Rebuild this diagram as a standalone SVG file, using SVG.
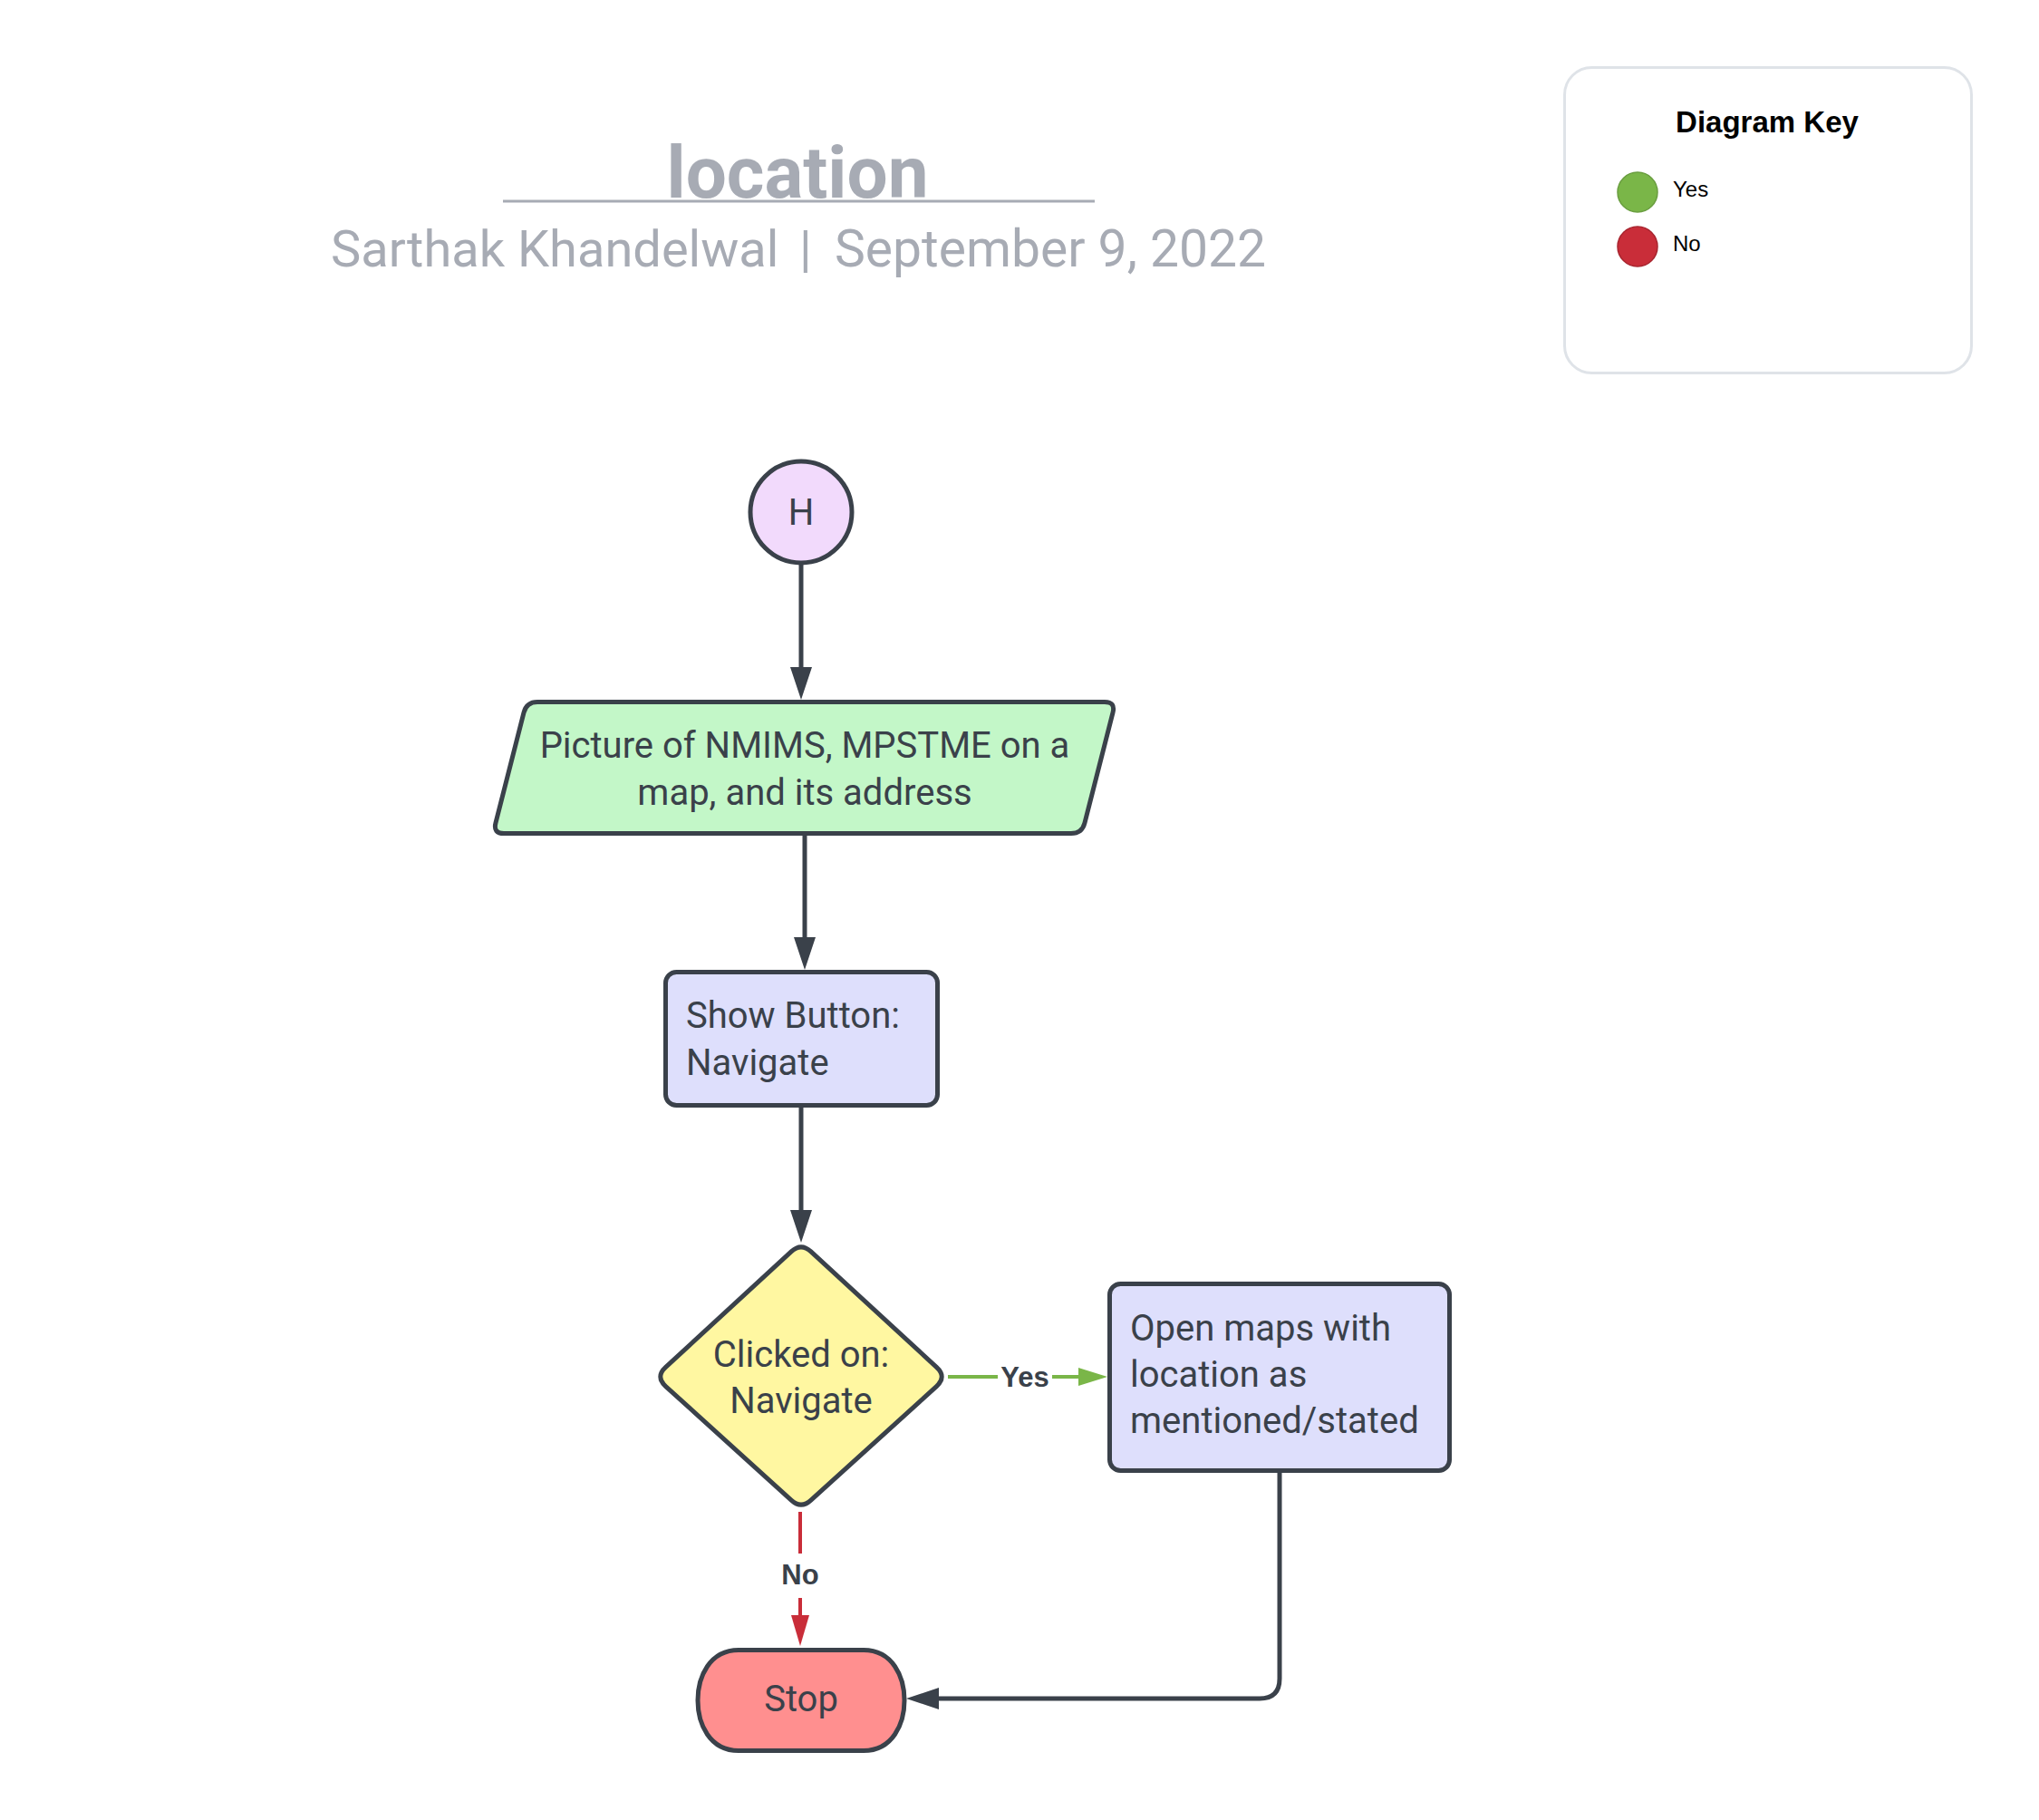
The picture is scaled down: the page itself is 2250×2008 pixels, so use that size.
<svg xmlns="http://www.w3.org/2000/svg" width="2250" height="2008" viewBox="0 0 2250 2008">
<style>
.node{stroke:#3a414a;stroke-width:5;stroke-linejoin:round}
.ntxt{font-family:Roboto,"Liberation Sans",sans-serif;font-size:40px;fill:#3a414a}
.mid{text-anchor:middle}
.conn{fill:none;stroke:#3a414a;stroke-width:5}
.yes{stroke:#7ab648;stroke-width:4}
.no{stroke:#c92d39;stroke-width:4}
.lbl{font-family:"Liberation Sans",Arial,sans-serif;font-weight:bold;font-size:31px;fill:#3a414a;text-anchor:middle}
.ttl{font-family:Roboto,"Liberation Sans",sans-serif;fill:#a7abb4}
.key{font-family:"Liberation Sans",Arial,sans-serif;fill:#000}
</style>
<defs>
<marker id="arrDark" markerUnits="userSpaceOnUse" markerWidth="40" markerHeight="26" refX="0" refY="12" orient="auto" overflow="visible"><path d="M0,0 L36,12 L0,24 Z" fill="#3a414a"/></marker>
<marker id="arrGreen" markerUnits="userSpaceOnUse" markerWidth="36" markerHeight="24" refX="0" refY="10" orient="auto" overflow="visible"><path d="M0,0 L32,10 L0,20 Z" fill="#7ab648"/></marker>
<marker id="arrRed" markerUnits="userSpaceOnUse" markerWidth="36" markerHeight="24" refX="0" refY="10" orient="auto" overflow="visible"><path d="M0,0 L34,10 L0,20 Z" fill="#c92d39"/></marker>
</defs>
<rect width="2250" height="2008" fill="#ffffff"/>

<g id="title">
<text class="ttl" x="880" y="218" font-size="80" font-weight="bold" text-anchor="middle">location</text>
<line x1="555" y1="222" x2="1208" y2="222" stroke="#a7abb4" stroke-width="3"/>
<text class="ttl" y="294" font-size="56"><tspan x="365">Sarthak Khandelwal</tspan><tspan x="882">|</tspan><tspan x="921" font-size="57">September 9, 2022</tspan></text>
</g>

<g id="legend">
<rect x="1726.5" y="74.5" width="449" height="337" rx="30" fill="#ffffff" stroke="#dfe3e8" stroke-width="3"/>
<text class="key" x="1950" y="146" font-size="33" font-weight="bold" text-anchor="middle">Diagram Key</text>
<circle cx="1807" cy="212" r="22" fill="#7ab648" stroke="#6a9e40" stroke-width="1.5"/>
<text class="key" x="1846" y="217" font-size="24">Yes</text>
<circle cx="1807" cy="272" r="22" fill="#c92d39" stroke="#a8252f" stroke-width="1.5"/>
<text class="key" x="1846" y="277" font-size="24">No</text>
</g>

<g id="connectors">
<line class="conn" x1="884" y1="623" x2="884" y2="736" marker-end="url(#arrDark)"/>
<line class="conn" x1="888" y1="922" x2="888" y2="1034" marker-end="url(#arrDark)"/>
<line class="conn" x1="884" y1="1222" x2="884" y2="1335" marker-end="url(#arrDark)"/>
<line class="yes" x1="1046" y1="1519" x2="1101" y2="1519"/>
<line class="yes" x1="1161" y1="1519" x2="1190" y2="1519" marker-end="url(#arrGreen)"/>
<text class="lbl" x="1131" y="1530">Yes</text>
<line class="no" x1="883" y1="1668" x2="883" y2="1714"/>
<line class="no" x1="883" y1="1763" x2="883" y2="1782" marker-end="url(#arrRed)"/>
<text class="lbl" x="883" y="1748">No</text>
<path class="conn" d="M1412,1625 V1852 Q1412,1874 1390,1874 H1036" marker-end="url(#arrDark)"/>
</g>

<g id="node-start">
<circle class="node" cx="884" cy="565" r="56" fill="#f2dafc"/>
<text class="ntxt mid" x="884" y="579">H</text>
</g>

<g id="node-picture">
<path class="node" fill="#c3f7c8" d="M593,774.5 L1219,774.5 Q1231,774.5 1228.03,786.13 L1196.97,907.87 Q1194,919.5 1182,919.5 L556,919.5 Q544,919.5 546.97,907.87 L578.03,786.13 Q581,774.5 593,774.5 Z"/>
<text class="ntxt mid" x="888" y="836">Picture of NMIMS, MPSTME on a</text>
<text class="ntxt mid" x="888" y="888">map, and its address</text>
</g>

<g id="node-show">
<rect class="node" x="734.5" y="1072.5" width="300" height="147" rx="12" fill="#dedffc"/>
<text class="ntxt" x="757" y="1134">Show Button:</text>
<text class="ntxt" x="757" y="1186">Navigate</text>
</g>

<g id="node-decision">
<path class="node" fill="#fff7a1" d="M894.6,1380.6 L1033.4,1508.4 Q1045,1519 1033.4,1529.6 L894.6,1655.4 Q884,1665 873.4,1655.4 L734.6,1529.6 Q723,1519 734.6,1508.4 L873.4,1380.6 Q884,1371 894.6,1380.6 Z"/>
<text class="ntxt mid" x="884" y="1508">Clicked on:</text>
<text class="ntxt mid" x="884" y="1559">Navigate</text>
</g>

<g id="node-open">
<rect class="node" x="1224.5" y="1416.5" width="375" height="206" rx="12" fill="#dedffc"/>
<text class="ntxt" x="1247" y="1479">Open maps with</text>
<text class="ntxt" x="1247" y="1530">location as</text>
<text class="ntxt" x="1247" y="1581">mentioned/stated</text>
</g>

<g id="node-stop">
<path class="node" fill="#ff8f8f" d="M815,1820.5 L953,1820.5 C985,1820.5 998,1850 998,1876 C998,1902 985,1931.5 953,1931.5 L815,1931.5 C783,1931.5 770,1902 770,1876 C770,1850 783,1820.5 815,1820.5 Z"/>
<text class="ntxt mid" x="884" y="1888">Stop</text>
</g>
</svg>
